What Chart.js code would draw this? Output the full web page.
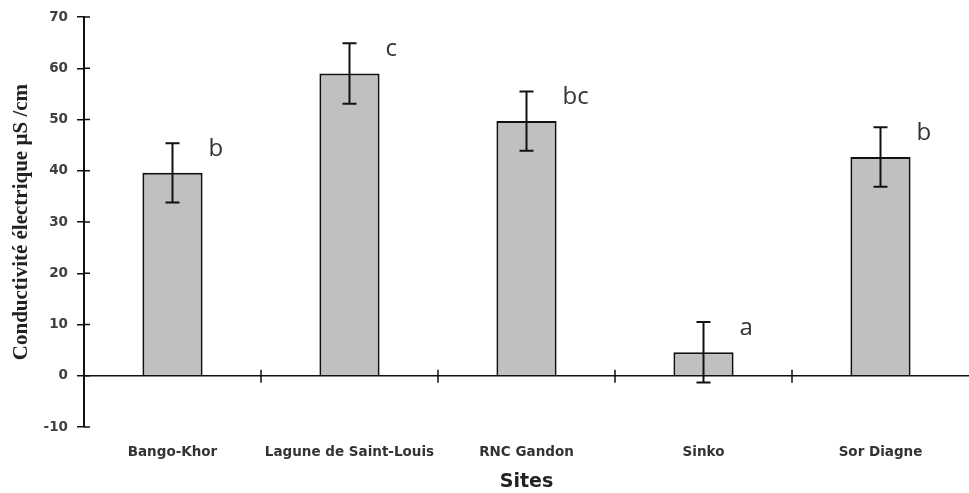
<!DOCTYPE html>
<html><head><meta charset="utf-8">
<script src="https://cdn.jsdelivr.net/npm/chart.js@4"></script>
<style>html,body{margin:0;padding:0;background:#fff}</style>
</head><body>
<canvas id="c" width="969" height="493" style="display:block;width:969px;height:493px"></canvas>
<script>
// ---- data ----
const sites = ['Bango-Khor', 'Lagune de Saint-Louis', 'RNC Gandon', 'Sinko', 'Sor Diagne'];
const conductivity = [39.6, 59.0, 49.7, 4.6, 42.7];
const errors = [5.8, 5.9, 5.8, 5.9, 5.8];
const groupLetters = ['b', 'c', 'bc', 'a', 'b'];
const yMin = -10, yMax = 70, yStep = 10;

const errorBarPlugin = {
  id: 'errorBars',
  afterDatasetsDraw(chart) {
    const ctx = chart.ctx, ys = chart.scales.y;
    const meta = chart.getDatasetMeta(0);
    ctx.save();
    ctx.strokeStyle = '#111';
    ctx.lineWidth = 2;
    meta.data.forEach((bar, i) => {
      const x = bar.x;
      const yT = ys.getPixelForValue(conductivity[i] + errors[i]);
      const yB = ys.getPixelForValue(conductivity[i] - errors[i]);
      ctx.beginPath();
      ctx.moveTo(x, yT); ctx.lineTo(x, yB);
      ctx.moveTo(x - 7, yT); ctx.lineTo(x + 7, yT);
      ctx.moveTo(x - 7, yB); ctx.lineTo(x + 7, yB);
      ctx.stroke();
    });
    // group letters
    ctx.fillStyle = '#333';
    ctx.font = '24px "Open Sans", sans-serif';
    ctx.textAlign = 'left';
    ctx.textBaseline = 'middle';
    meta.data.forEach((bar, i) => {
      const y = ys.getPixelForValue(conductivity[i] + errors[i]) + 6;
      ctx.fillText(groupLetters[i], bar.x + 36, y);
    });
    ctx.restore();
  }
};

const axisMarksPlugin = {
  id: 'axisMarks',
  afterDraw(chart) {
    const ctx = chart.ctx, ys = chart.scales.y, xs = chart.scales.x;
    const area = chart.chartArea;
    const y0 = ys.getPixelForValue(0);
    ctx.save();
    ctx.strokeStyle = '#111';
    ctx.lineWidth = 1.5;
    ctx.beginPath();
    ys.ticks.forEach(t => {
      const y = ys.getPixelForValue(t.value);
      ctx.moveTo(area.left, y); ctx.lineTo(area.left + 6, y);
    });
    for (let k = 1; k < sites.length; k++) {
      const x = xs.getPixelForValue(k - 0.5);
      ctx.moveTo(x, y0 - 6); ctx.lineTo(x, y0 + 7);
    }
    ctx.stroke();
    ctx.restore();
  }
};

new Chart(document.getElementById('c'), {
  type: 'bar',
  data: {
    labels: sites,
    datasets: [{
      data: conductivity,
      backgroundColor: '#c0c0c0',
      borderColor: '#111',
      borderWidth: 2,
      categoryPercentage: 1,
      barPercentage: 0.34
    }]
  },
  options: {
    responsive: false,
    animation: false,
    layout: { padding: { top: 16, right: 0, left: 0, bottom: 0 } },
    plugins: { legend: { display: false }, tooltip: { enabled: false } },
    scales: {
      x: {
        grid: { display: false, drawTicks: false },
        border: { display: false },
        ticks: { color: '#333', font: { family: 'DejaVu Sans', weight: 'bold', size: 13.5 }, padding: 17, maxRotation: 0 },
        title: { display: true, text: 'Sites', color: '#222', font: { family: 'DejaVu Sans', weight: 'bold', size: 19, lineHeight: 1.1 }, padding: { top: 0, bottom: 0 } },
        afterFit(s) { s.height = 66; }
      },
      y: {
        min: yMin, max: yMax,
        ticks: { stepSize: yStep, color: '#404040', font: { family: 'DejaVu Sans', weight: 'bold', size: 13.5 }, padding: 9 },
        grid: {
          drawOnChartArea: true, drawTicks: true, tickLength: 7, lineWidth: 1.5,
          color: c => (c.tick && c.tick.value === 0) ? '#111' : 'rgba(0,0,0,0)',
          tickColor: '#111'
        },
        border: { display: true, color: '#111', width: 2 },
        title: { display: true, text: 'Conductivité électrique µS /cm', color: '#222', font: { family: 'Liberation Serif', weight: 'bold', size: 21, lineHeight: 1.2 }, padding: { top: 9, bottom: 0 } },
        afterFit(s) { s.width = 84; }
      }
    }
  },
  plugins: [errorBarPlugin, axisMarksPlugin]
});
</script>
</body></html>
